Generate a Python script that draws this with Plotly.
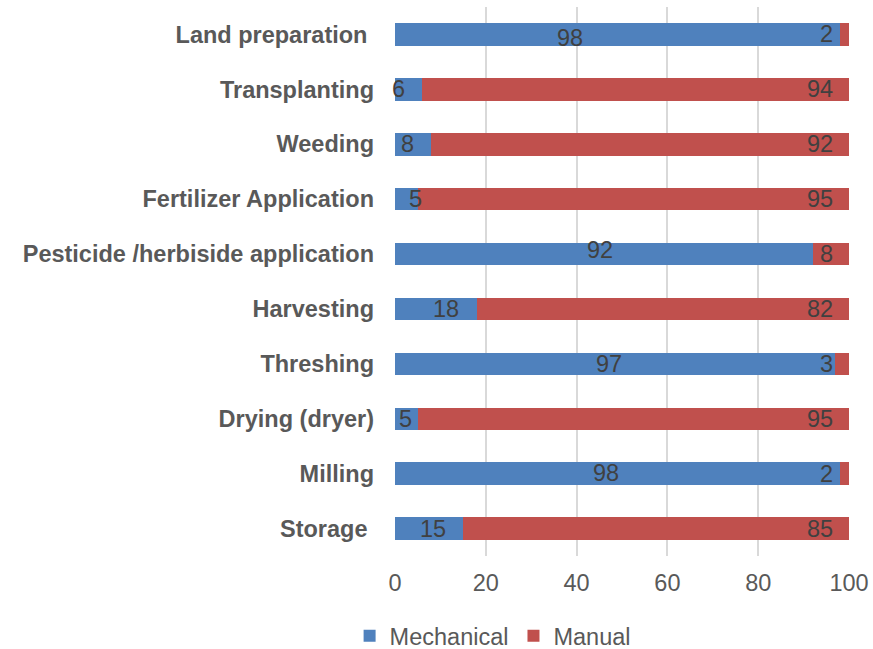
import plotly.graph_objects as go

categories = ["Land preparation\u00a0", "Transplanting", "Weeding", "Fertilizer Application",
              "Pesticide /herbiside application", "Harvesting", "Threshing",
              "Drying (dryer)", "Milling", "Storage\u00a0"]
mechanical = [98, 6, 8, 5, 92, 18, 97, 5, 98, 15]
manual = [2, 94, 92, 95, 8, 82, 3, 95, 2, 85]
x_ticks = [0, 20, 40, 60, 80, 100]

# label nudges in pixels (style only)
mech_dx = [-47, -10, -6, 9, -4, 10, -6, -1, -11, 4]
mech_dy = [-4, 0, 0, 0, 4, 0, 0, 0, 1, 0]

BLUE = "#4F81BD"
RED = "#C0504D"
FONT = "Liberation Sans, Arial"
FS = 23.5

fig = go.Figure()
fig.add_trace(go.Bar(y=categories, x=mechanical, name="Mechanical", orientation="h",
                     marker=dict(color=BLUE, line=dict(width=0))))
fig.add_trace(go.Bar(y=categories, x=manual, name="Manual", orientation="h",
                     marker=dict(color=RED, line=dict(width=0))))

annotations = []
for i, cat in enumerate(categories):
    annotations.append(dict(x=mechanical[i] / 2, y=cat, xref="x", yref="y",
                            text=str(mechanical[i]), showarrow=False,
                            xanchor="center", yanchor="middle",
                            xshift=mech_dx[i], yshift=mech_dy[i],
                            font=dict(family=FONT, size=FS, color="#404040")))
    annotations.append(dict(x=mechanical[i] + manual[i], y=cat, xref="x", yref="y",
                            text=str(manual[i]), showarrow=False,
                            xanchor="right", yanchor="middle", xshift=-14,
                            font=dict(family=FONT, size=FS, color="#404040")))

fig.update_layout(
    barmode="stack",
    bargap=0.59,
    width=873, height=649,
    margin=dict(l=395, r=24, t=6.5, b=92.5, autoexpand=False),
    plot_bgcolor="white", paper_bgcolor="white",
    font=dict(family=FONT, size=FS, color="#595959"),
    annotations=annotations,
    showlegend=True,
    hovermode=False,
    legend=dict(orientation="h", x=-0.1, xanchor="left",
                yref="container", y=0.02, yanchor="middle",
                font=dict(size=FS, color="#595959"), itemwidth=30,
                traceorder="normal"),
    xaxis=dict(range=[0, 100], tickvals=x_ticks, showgrid=True, gridcolor="#D9D9D9",
               gridwidth=2, zeroline=False, showline=False, ticks="",
               ticklabelstandoff=10, automargin=False,
               tickfont=dict(size=FS, color="#595959"), fixedrange=True),
    yaxis=dict(range=[9.5, -0.5], showgrid=False, zeroline=False, showline=False,
               ticks="", ticklabelstandoff=20, automargin=False, fixedrange=True,
               tickfont=dict(family=FONT, size=FS, color="#595959", weight="bold")),
)

fig.write_html("out.html",
               config={"displayModeBar": False, "staticPlot": True},
               post_script="document.body.style.margin='0';document.body.style.overflow='hidden';")
